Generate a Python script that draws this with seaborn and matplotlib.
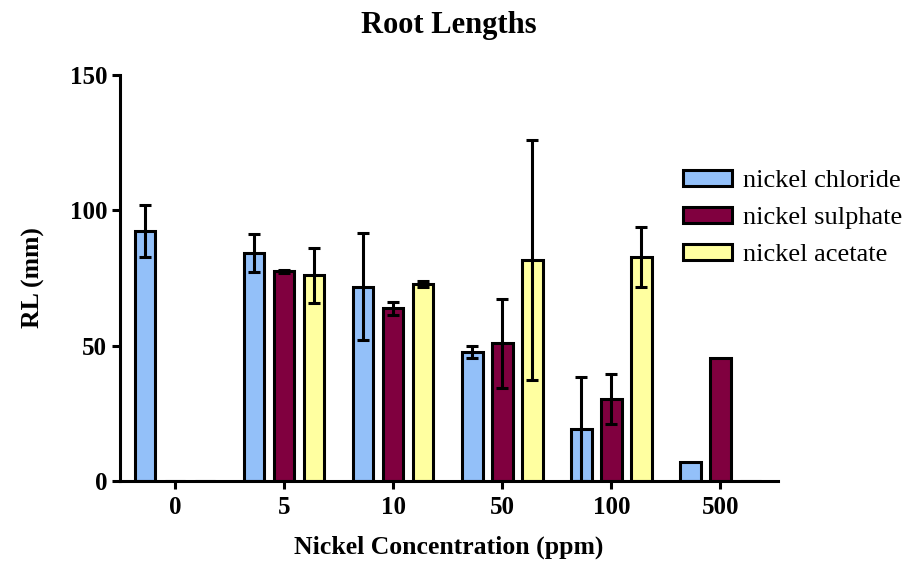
import matplotlib
matplotlib.use("Agg")
import matplotlib.pyplot as plt
from matplotlib.patches import Patch
import numpy as np
import pandas as pd
import seaborn as sns

# Root length (mm) by nickel salt and concentration: mean and SD
concentrations = ["0", "5", "10", "50", "100", "500"]
salts = ["nickel chloride", "nickel sulphate", "nickel acetate"]
chloride_mean = [92.3, 84.1, 71.8, 47.7, 19.2, 6.9]
chloride_sd = [9.5, 7.0, 19.7, 2.2, 19.3, 0.0]
sulphate_mean = [0.0, 77.4, 63.8, 50.9, 30.2, 45.3]
sulphate_sd = [0.0, 0.5, 2.3, 16.4, 9.2, 0.0]
acetate_mean = [0.0, 76.0, 72.8, 81.6, 82.9, 0.0]
acetate_sd = [0.0, 10.2, 1.0, 44.3, 11.1, 0.0]
colors = ["#93C0F9", "#80003F", "#FFFFA0"]

means = [chloride_mean, sulphate_mean, acetate_mean]
sds = [chloride_sd, sulphate_sd, acetate_sd]

df = pd.DataFrame({
    "conc": concentrations * 3,
    "salt": np.repeat(salts, len(concentrations)),
    "rl": chloride_mean + sulphate_mean + acetate_mean,
})

sns.set_style("ticks")
plt.rcParams["font.family"] = ["Liberation Serif", "DejaVu Serif"]
plt.rcParams.update({
    "text.color": "black", "axes.labelcolor": "black",
    "axes.edgecolor": "black", "xtick.color": "black", "ytick.color": "black",
})

fig = plt.figure(figsize=(9.22, 5.63), dpi=100)
ax = fig.add_axes([0.130, 0.1456, 0.714, 0.7214])

lw = 2.2
sns.barplot(data=df, x="conc", y="rl", hue="salt", order=concentrations,
            hue_order=salts, palette=colors, saturation=1, width=0.825,
            gap=0.31, edgecolor="black", linewidth=lw, errorbar=None,
            legend=False, ax=ax, zorder=2)

# error bars at the centre of each drawn bar
for container, sd in zip(ax.containers, sds):
    for bar, s in zip(container.patches, sd):
        if s <= 0:
            continue
        xc = bar.get_x() + bar.get_width() / 2
        ax.errorbar(xc, bar.get_height(), yerr=s, fmt="none", ecolor="black",
                    elinewidth=lw, capsize=4.6, capthick=lw, zorder=3)

ax.set_ylim(0, 150)
ax.set_xlim(-0.505, 5.53)
ax.set_yticks([0, 50, 100, 150])
for side in ("top", "right"):
    ax.spines[side].set_visible(False)
for side in ("left", "bottom"):
    ax.spines[side].set_linewidth(lw)
ax.tick_params(axis="both", length=6, width=lw, direction="out",
               labelsize=18, pad=3)
ax.tick_params(axis="x", pad=5)
for lab in ax.get_xticklabels() + ax.get_yticklabels():
    lab.set_fontweight("bold")

ax.set_xlabel("Nickel Concentration (ppm)", fontsize=18.5, fontweight="bold",
              labelpad=12)
ax.set_ylabel("RL (mm)", fontsize=18.5, fontweight="bold", labelpad=18)
ax.set_title("Root Lengths", fontsize=22, fontweight="bold", pad=30)

handles = [Patch(facecolor=c, edgecolor="black", linewidth=lw) for c in colors]
fig.legend(handles, salts, loc="upper left", bbox_to_anchor=(0.741, 0.698),
           frameon=False, fontsize=19, handlelength=1.85, handleheight=0.55,
           handletextpad=0.42, labelspacing=0.56, borderpad=0, borderaxespad=0)

fig.savefig("out.png", dpi=100)
